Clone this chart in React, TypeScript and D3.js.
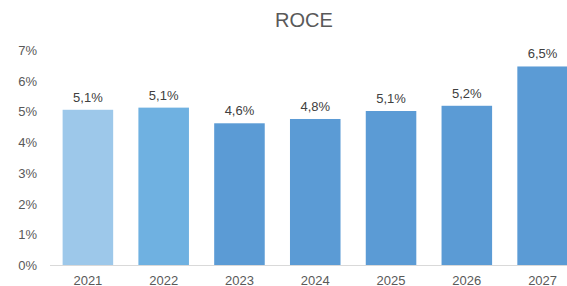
import React from "react";
import * as d3 from "d3";

const categories = ["2021", "2022", "2023", "2024", "2025", "2026", "2027"];
const values = [5.07, 5.14, 4.63, 4.77, 5.03, 5.2, 6.48];
const valueLabels = ["5,1%", "5,1%", "4,6%", "4,8%", "5,1%", "5,2%", "6,5%"];
const barColors = ["#9DC8EA", "#6FB1E1", "#5B9BD5", "#5B9BD5", "#5B9BD5", "#5B9BD5", "#5B9BD5"];
const yTicks = [0, 1, 2, 3, 4, 5, 6, 7];
const title = "ROCE";

export default function App() {
  const W = 567, H = 286;
  const x = d3.scaleBand<string>().domain(categories).range([50, 580.5]).paddingInner(0.333).paddingOuter(0.1665);
  const y = d3.scaleLinear().domain([0, 7]).range([265.5, 50.5]);
  const font = "'Liberation Sans', Arial, sans-serif";
  return (
    <svg width={W} height={H} style={{ position: "absolute", left: 0, top: 0, background: "#fff" }}>
      <text x={304} y={27} textAnchor="middle" fontFamily={font} fontSize={20} fill="#595959">{title}</text>
      {yTicks.map((t) => (
        <text key={t} x={37} y={y(t) + 4.5} textAnchor="end" fontFamily={font} fontSize={13} fill="#595959">{t}%</text>
      ))}
      {categories.map((c, i) => (
        <g key={c}>
          <rect x={x(c)} y={y(values[i])} width={x.bandwidth()} height={y(0) - y(values[i])} fill={barColors[i]} />
          <text x={(x(c) as number) + x.bandwidth() / 2} y={y(values[i]) - 8} textAnchor="middle" fontFamily={font} fontSize={13} fill="#404040">{valueLabels[i]}</text>
          <text x={(x(c) as number) + x.bandwidth() / 2} y={284.5} textAnchor="middle" fontFamily={font} fontSize={13} fill="#595959">{c}</text>
        </g>
      ))}
      <line x1={50} x2={W} y1={y(0)} y2={y(0)} stroke="#D9D9D9" strokeWidth={1} />
    </svg>
  );
}
